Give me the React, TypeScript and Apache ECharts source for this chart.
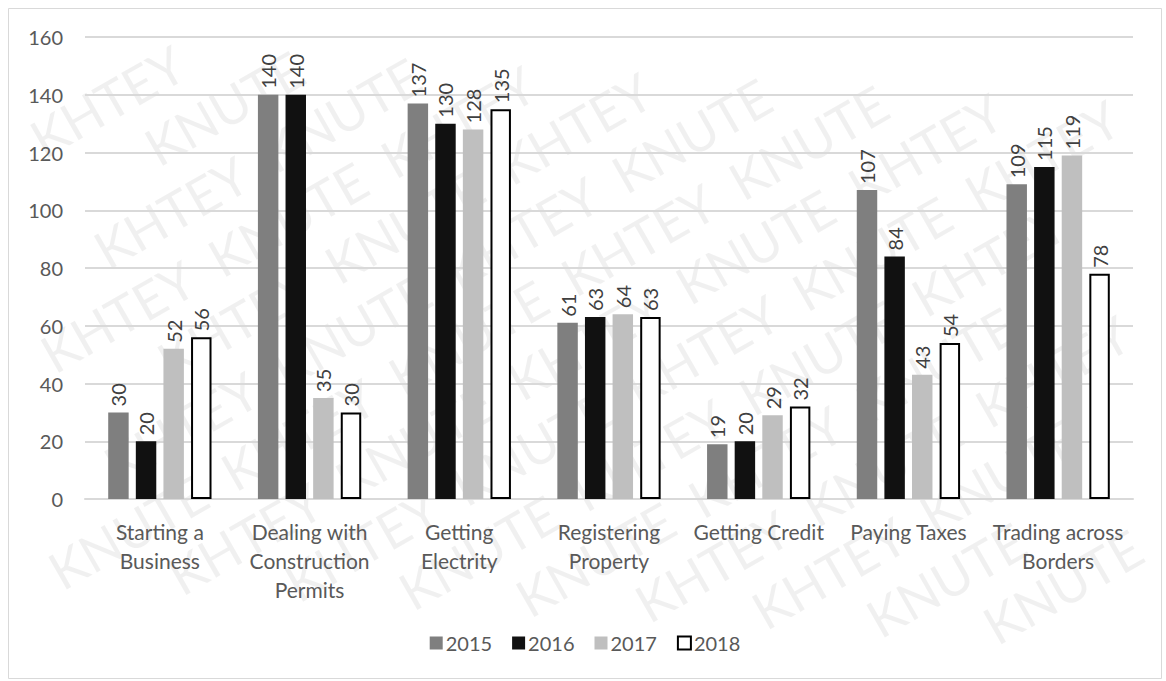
import React, { useEffect, useRef } from "react";
import * as echarts from "echarts";

const categories = [
  "Starting a\nBusiness",
  "Dealing with\nConstruction\nPermits",
  "Getting\nElectrity",
  "Registering\nProperty",
  "Getting Credit",
  "Paying Taxes",
  "Trading across\nBorders",
];
const years = ["2015", "2016", "2017", "2018"];
const v2015 = [30, 140, 137, 61, 19, 107, 109];
const v2016 = [20, 140, 130, 63, 20, 84, 115];
const v2017 = [52, 35, 128, 64, 29, 43, 119];
const v2018 = [56, 30, 135, 63, 32, 54, 78];
const yTicks = { min: 0, max: 160, interval: 20 };
const watermarkWords = ["KHTEY", "KNUTE"];

const FONT = "Lato, 'Open Sans', sans-serif";
const W = 1154;
const H = 671;

export default function App() {
  const ref = useRef<HTMLDivElement>(null);
  useEffect(() => {
    if (!ref.current) return;
    const chart = echarts.init(ref.current, undefined, { renderer: "svg" });
    const fills = ["#7f7f7f", "#111111", "#bfbfbf", "#ffffff"];
    const values = [v2015, v2016, v2017, v2018];

    // watermark: words along rotated rows, kept only where fully inside the frame
    const wm: any[] = [];
    const rot = 0.52;
    const c = Math.cos(rot);
    const s = Math.sin(rot);
    const cx = W / 2;
    const cy = H / 2;
    const wordW = 146;
    const wordH = 34;
    const step = 196;
    const rowGap = 64;
    for (let r = -14; r <= 14; r++) {
      const off = ((r + 100) % 2) * (step / 2);
      for (let k = -10; k <= 10; k++) {
        const u = k * step + off;
        const v = r * rowGap;
        const px = cx + u * c + v * s;
        const py = cy - u * s + v * c;
        const hw = (wordW / 2) * c + (wordH / 2) * s;
        const hh = (wordW / 2) * s + (wordH / 2) * c;
        if (px - hw < 1 || px + hw > W - 1 || py - hh < 1 || py + hh > H - 1) continue;
        wm.push({
          type: "text",
          x: px,
          y: py,
          rotation: rot,
          style: {
            text: watermarkWords[(k + 100) % 2],
            fontSize: 52,
            fontFamily: FONT,
            fill: "rgba(0,0,0,0.06)",
            textAlign: "center",
            textVerticalAlign: "middle",
          },
          silent: true,
          z: -10,
        });
      }
    }

    chart.setOption({
      animation: false,
      backgroundColor: "#ffffff",
      textStyle: { fontFamily: FONT },
      graphic: [
        ...wm,
        {
          type: "rect",
          shape: { x: 0.5, y: 0.5, width: W - 1, height: H - 1 },
          style: { fill: "none", stroke: "#d9d9d9", lineWidth: 1 },
          silent: true,
          z: 100,
        },
      ],
      grid: { left: 77, right: 29, top: 29, bottom: 180, containLabel: false },
      legend: {
        bottom: 21,
        left: "center",
        itemWidth: 13,
        itemHeight: 13,
        itemGap: 20,
        icon: "rect",
        textStyle: { fontSize: 20, color: "#595959", fontFamily: FONT, padding: [0, 0, 0, -2] },
        data: years.map((y, i) => ({
          name: y,
          itemStyle:
            i === 3
              ? { color: "#ffffff", borderColor: "#000000", borderWidth: 2 }
              : { color: fills[i] },
        })),
      },
      xAxis: {
        type: "category",
        data: categories,
        axisTick: { show: false },
        axisLine: { lineStyle: { color: "#d9d9d9", width: 2 } },
        axisLabel: {
          fontSize: 21,
          color: "#595959",
          lineHeight: 29,
          margin: 18,
          interval: 0,
          fontFamily: FONT,
        },
      },
      yAxis: {
        type: "value",
        min: yTicks.min,
        max: yTicks.max,
        interval: yTicks.interval,
        axisLine: { show: false },
        axisTick: { show: false },
        axisLabel: { fontSize: 20, color: "#595959", margin: 22, fontFamily: FONT },
        splitLine: { lineStyle: { color: "#d9d9d9", width: 2 } },
      },
      series: years.map((y, i) => ({
        name: y,
        type: "bar",
        data: values[i],
        barGap: "35%",
        barCategoryGap: "31%",
        itemStyle:
          i === 3
            ? { color: "#ffffff", borderColor: "#000000", borderWidth: 2 }
            : { color: fills[i] },
        label: {
          show: true,
          position: "top",
          rotate: 90,
          align: "left",
          verticalAlign: "middle",
          distance: 6,
          fontSize: 20,
          color: "#404040",
          fontFamily: FONT,
        },
      })),
    });
    return () => chart.dispose();
  }, []);
  return (
    <div
      ref={ref}
      style={{ position: "absolute", left: 8, top: 8, width: W, height: H }}
    />
  );
}
